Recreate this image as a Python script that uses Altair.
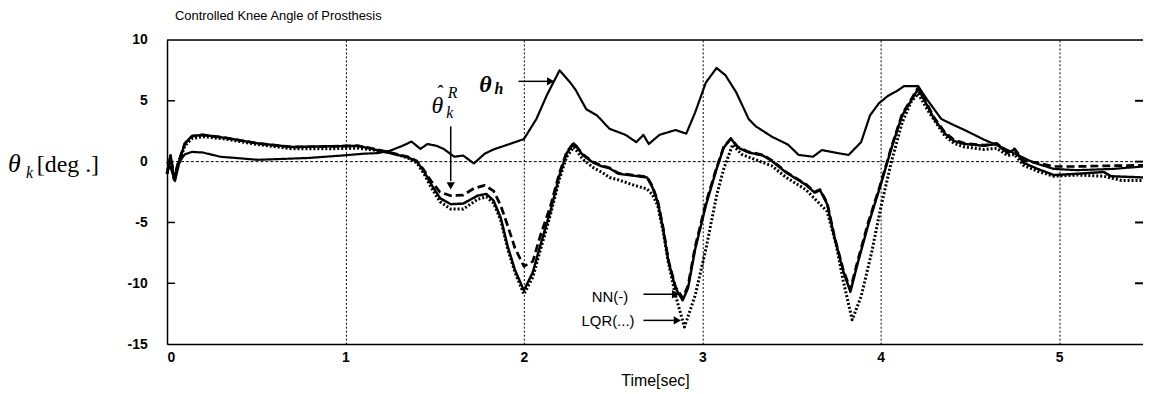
import altair as alt
import pandas as pd

# ---------------- data ----------------
t_nn = [0.0, 0.02, 0.04, 0.06, 0.1, 0.14, 0.2, 0.33, 0.51, 0.7, 0.88, 1.07, 1.16, 1.25, 1.35,
        1.4, 1.44, 1.48, 1.53, 1.59, 1.66, 1.74, 1.79, 1.83, 1.87, 1.91, 1.95, 2.0, 2.05, 2.09,
        2.15, 2.2, 2.24, 2.28, 2.33, 2.39, 2.44, 2.48, 2.53, 2.61, 2.69, 2.72, 2.75, 2.78, 2.81,
        2.85, 2.89, 2.92, 2.96, 3.02, 3.08, 3.12, 3.16, 3.2, 3.26, 3.34, 3.39, 3.47, 3.58, 3.63,
        3.66, 3.7, 3.74, 3.79, 3.83, 3.87, 3.93, 4.0, 4.06, 4.12, 4.17, 4.21, 4.25, 4.3, 4.36,
        4.41, 4.47, 4.58, 4.65, 4.71, 4.75, 4.8, 4.88, 4.97, 5.1, 5.25, 5.29, 5.47]
v_nn = [-1.0, 0.5, -1.5, -0.3, 1.5, 2.1, 2.2, 1.95, 1.5, 1.2, 1.25, 1.3, 1.0, 0.7, 0.35,
        0.0, -0.8, -1.85, -3.0, -3.5, -3.45, -2.8, -2.65, -3.2, -4.6, -7.0, -8.9, -10.6, -9.1, -7.0,
        -4.0, -1.1, 0.7, 1.5, 0.55, -0.1, -0.4, -0.55, -1.0, -1.15, -1.3, -2.1, -3.3, -5.5, -8.2,
        -10.4, -11.4, -10.4, -7.2, -3.6, -0.6, 1.15, 1.9, 1.15, 0.75, 0.5, 0.05, -0.9, -1.9, -2.55,
        -2.35, -3.5, -6.2, -9.0, -10.7, -8.4, -5.2, -1.9, 1.1, 3.8, 5.0, 6.0, 4.9, 3.5, 2.3,
        1.7, 1.45, 1.3, 1.45, 0.7, 1.0, -0.1, -0.6, -1.1, -1.0, -0.85, -1.2, -1.3]

t_lqr = [0.0, 0.02, 0.04, 0.06, 0.1, 0.14, 0.2, 0.33, 0.51, 0.7, 0.88, 1.07, 1.16, 1.25, 1.35,
         1.4, 1.44, 1.48, 1.53, 1.59, 1.66, 1.74, 1.79, 1.83, 1.87, 1.91, 1.95, 2.0, 2.05, 2.09,
         2.15, 2.2, 2.24, 2.28, 2.33, 2.39, 2.44, 2.48, 2.53, 2.61, 2.69, 2.72, 2.75, 2.78, 2.81,
         2.85, 2.9, 2.96, 3.02, 3.08, 3.12, 3.17, 3.22, 3.3, 3.39, 3.47, 3.58, 3.66, 3.7, 3.75,
         3.79, 3.84, 3.89, 3.95, 4.0, 4.06, 4.12, 4.17, 4.21, 4.26, 4.31, 4.36, 4.41, 4.47, 4.58,
         4.65, 4.71, 4.75, 4.8, 4.88, 4.97, 5.1, 5.25, 5.35, 5.47]
v_lqr = [-1.0, 0.3, -1.5, -0.4, 1.3, 1.9, 2.05, 1.85, 1.4, 1.05, 1.05, 1.1, 0.95, 0.75, 0.3,
         -0.1, -1.0, -2.1, -3.3, -3.9, -3.9, -3.1, -2.9, -3.4, -4.8, -7.2, -9.1, -10.9, -9.5, -7.4,
         -4.3, -1.4, 0.4, 1.2, 0.2, -0.5, -0.9, -1.3, -1.5, -1.9, -2.25, -2.7, -3.6, -5.7, -8.3,
         -11.0, -13.6, -11.0, -7.2, -2.8, -0.6, 1.4, 0.6, 0.15, -0.35, -1.3, -2.3, -3.5, -4.1, -6.8,
         -9.8, -13.0, -11.1, -7.4, -3.8, 0.0, 3.2, 4.9, 5.6, 4.3, 3.2, 2.1, 1.5, 1.2, 1.0,
         1.1, 0.5, 0.6, -0.3, -0.8, -1.2, -1.1, -1.2, -1.55, -1.55]

t_ref = [0.0, 0.02, 0.04, 0.06, 0.1, 0.14, 0.2, 0.33, 0.51, 0.7, 0.88, 1.07, 1.16, 1.25, 1.35,
         1.4, 1.44, 1.48, 1.53, 1.59, 1.66, 1.72, 1.78, 1.83, 1.87, 1.91, 1.95, 2.0, 2.05, 2.09,
         2.15, 2.2, 2.24, 2.28, 2.33, 2.39, 2.44, 2.48, 2.53, 2.61, 2.69, 2.72, 2.75, 2.78, 2.81,
         2.85, 2.89, 2.92, 2.96, 3.02, 3.08, 3.12, 3.16, 3.2, 3.26, 3.34, 3.39, 3.47, 3.58, 3.63,
         3.66, 3.7, 3.74, 3.79, 3.83, 3.87, 3.93, 4.0, 4.06, 4.12, 4.17, 4.21, 4.25, 4.3, 4.36,
         4.41, 4.47, 4.58, 4.65, 4.71, 4.75, 4.8, 4.88, 4.97, 5.1, 5.25, 5.47]
v_ref = [-1.0, 0.5, -1.3, -0.2, 1.5, 2.1, 2.2, 1.95, 1.5, 1.2, 1.25, 1.3, 1.05, 0.75, 0.4,
         0.05, -0.7, -1.6, -2.5, -2.8, -2.75, -2.2, -1.95, -2.4, -3.6, -5.3, -7.1, -8.6, -8.2, -6.2,
         -3.6, -0.9, 0.8, 1.55, 0.6, -0.05, -0.35, -0.5, -0.95, -1.1, -1.25, -2.0, -3.2, -5.4, -8.1,
         -10.3, -11.2, -10.2, -7.0, -3.4, -0.5, 1.2, 1.9, 1.2, 0.8, 0.55, 0.1, -0.85, -1.85, -2.5,
         -2.3, -3.4, -6.1, -8.9, -10.5, -8.2, -5.0, -1.8, 1.2, 3.9, 5.1, 6.1, 5.0, 3.6, 2.4,
         1.8, 1.5, 1.35, 1.5, 0.8, 1.05, 0.1, -0.1, -0.4, -0.4, -0.35, -0.3]

t_hip = [0.0, 0.02, 0.045, 0.07, 0.1, 0.14, 0.2, 0.3, 0.51, 0.79, 0.98, 1.1, 1.18, 1.25, 1.32,
         1.37, 1.42, 1.46, 1.51, 1.55, 1.61, 1.66, 1.72, 1.78, 1.83, 1.92, 2.0, 2.07, 2.13, 2.2,
         2.26, 2.29, 2.35, 2.41, 2.48, 2.57, 2.63, 2.67, 2.7, 2.76, 2.85, 2.91, 2.96, 3.02, 3.08,
         3.13, 3.19, 3.26, 3.3, 3.39, 3.48, 3.54, 3.62, 3.67, 3.76, 3.82, 3.89, 3.94, 3.99, 4.04,
         4.09, 4.13, 4.21, 4.26, 4.34, 4.41, 4.47, 4.58, 4.69, 4.76, 4.86, 4.97, 5.1, 5.3, 5.47]
v_hip = [0.0, -0.5, -1.6, 0.0, 0.6, 0.8, 0.75, 0.4, 0.15, 0.3, 0.5, 0.65, 0.7, 0.9, 1.3,
         1.65, 1.05, 1.45, 1.3, 1.05, 0.4, 0.5, -0.15, 0.65, 1.0, 1.45, 1.85, 3.5, 5.5, 7.5,
         6.5, 5.9, 4.3, 3.8, 2.7, 2.2, 1.6, 2.2, 1.45, 2.2, 2.6, 2.3, 4.05, 6.5, 7.7,
         7.1, 5.7, 3.5, 2.9, 2.05, 1.4, 0.55, 0.4, 0.95, 0.7, 0.55, 1.6, 3.8, 4.8, 5.4,
         5.8, 6.2, 6.2, 5.1, 3.5, 3.0, 2.6, 1.8, 1.1, 0.6, -0.1, -0.6, -0.7, -0.6, -0.4]

series_names = ["LQR", "ref", "NN", "hip"]
series_t = [t_lqr, t_ref, t_nn, t_hip]
series_v = [v_lqr, v_ref, v_nn, v_hip]

x_ticks = [0, 1, 2, 3, 4, 5]
y_ticks = [-15, -10, -5, 0, 5, 10]
left_inner_ticks = [5, -5, -10]
right_inner_ticks = [5, 0, -5, -10]

# annotation texts and positions (data units)
label_text = ["NN(-)", "LQR(...)"]
label_t = [2.585, 2.62]
label_v = [-11.1, -13.1]

arrow_t1 = [1.97, 1.59, 2.67, 2.67]
arrow_v1 = [6.6, 2.9, -10.9, -13.05]
arrow_t2 = [2.13, 1.59, 2.83, 2.84]
arrow_v2 = [6.6, -1.6, -10.9, -13.05]
head_t = [2.15, 1.59, 2.85, 2.86]
head_v = [6.6, -2.0, -10.9, -13.05]
head_shape = ["triangle-right", "triangle-down", "triangle-right", "triangle-right"]

# math-label pieces: text, t, v, size, weight
math_txt = ["θ", "h", "θ", "ˆ", "k", "R"]
math_t = [1.785, 1.86, 1.515, 1.525, 1.585, 1.6]
math_v = [5.75, 5.55, 4.0, 5.2, 3.55, 5.2]
math_size = [24, 16, 24, 20, 16, 16]
math_weight = ["bold", "bold", "normal", "normal", "normal", "normal"]

# y-axis title pieces (pixel offsets relative to the plot's top-left corner)
ytitle_txt = ["θ", "k", "[deg .]"]
ytitle_x = [-160, -142, -131]
ytitle_y = [133, 139, 133]
ytitle_size = [26, 16, 24]
ytitle_style = ["italic", "italic", "normal"]

# ---------------- build ----------------
rows = []
for name, ts, vs in zip(series_names, series_t, series_v):
    for i, (t, v) in enumerate(zip(ts, vs)):
        rows.append({"series": name, "t": t, "v": v, "i": i})
df = pd.DataFrame(rows)

W, H = 982, 306
XD = [0, 5.47]
YD = [-15, 10]

xs = alt.Scale(domain=XD, nice=False, zero=False)
ys = alt.Scale(domain=YD, nice=False, zero=False)

x_enc = alt.X("t:Q", scale=xs, axis=alt.Axis(
    values=x_ticks, format="d", title="Time[sec]", grid=True, gridDash=[2, 2], gridColor="black",
    gridOpacity=1, gridWidth=1, ticks=False, domain=True, domainColor="black", domainWidth=1.5,
    labelFont="Liberation Sans", labelFontWeight="bold", labelFontSize=14, labelPadding=7,
    labelColor="black", titleFont="Liberation Sans", titleFontWeight="normal",
    titleFontSize=16, titleColor="black", titlePadding=8))
y_enc = alt.Y("v:Q", scale=ys, axis=alt.Axis(
    values=y_ticks, labelExpr="datum.value < 0 ? '-' + abs(datum.value) : '' + datum.value",
    title=None, grid=False, ticks=False, domain=True,
    domainColor="black", domainWidth=1.5, labelFont="Liberation Sans",
    labelFontWeight="bold", labelFontSize=14, labelPadding=20, labelColor="black"))

lines = alt.Chart(df).mark_line(color="black", strokeCap="butt", strokeJoin="round").encode(
    x=x_enc, y=y_enc,
    detail="series:N",
    order="i:Q",
    strokeDash=alt.StrokeDash("series:N", scale=alt.Scale(
        domain=series_names, range=[[2, 2], [8, 4], [1, 0], [1, 0]]), legend=None),
    strokeWidth=alt.StrokeWidth("series:N", scale=alt.Scale(
        domain=series_names, range=[3.0, 2.2, 3.4, 2.5]), legend=None),
)

zero = alt.Chart(pd.DataFrame({"v": [0]})).mark_rule(
    color="black", strokeDash=[3, 2], strokeWidth=1).encode(y=alt.Y("v:Q", scale=ys))

top = alt.Chart(pd.DataFrame({"v": [10]})).mark_rule(color="black", strokeWidth=1.5).encode(
    y=alt.Y("v:Q", scale=ys))

lticks = alt.Chart(pd.DataFrame({"v": left_inner_ticks})).mark_rule(
    color="black", strokeWidth=1.5).encode(
    y=alt.Y("v:Q", scale=ys), x=alt.value(0), x2=alt.value(8))
rticks = alt.Chart(pd.DataFrame({"v": right_inner_ticks})).mark_rule(
    color="black", strokeWidth=2).encode(
    y=alt.Y("v:Q", scale=ys), x=alt.value(W - 8), x2=alt.value(W))

arrows = alt.Chart(pd.DataFrame({"t": arrow_t1, "v": arrow_v1, "t2": arrow_t2, "v2": arrow_v2})
                   ).mark_rule(color="black", strokeWidth=1.5).encode(
    x=alt.X("t:Q", scale=xs), y=alt.Y("v:Q", scale=ys), x2="t2:Q", y2="v2:Q")
heads = alt.Chart(pd.DataFrame({"t": head_t, "v": head_v, "shape": head_shape})).mark_point(
    filled=True, color="black", size=70, opacity=1).encode(
    x=alt.X("t:Q", scale=xs), y=alt.Y("v:Q", scale=ys),
    shape=alt.Shape("shape:N", scale=None, legend=None))

labels = alt.Chart(pd.DataFrame({"t": label_t, "v": label_v, "txt": label_text})).mark_text(
    align="right", baseline="middle", font="Liberation Sans", fontSize=15, color="black").encode(
    x=alt.X("t:Q", scale=xs), y=alt.Y("v:Q", scale=ys), text="txt:N")

math_df = pd.DataFrame({"t": math_t, "v": math_v, "txt": math_txt, "size": math_size,
                        "weight": math_weight})
math_layers = []
for w in ["bold", "normal"]:
    for s in sorted(set(math_size)):
        sub = math_df[(math_df["size"] == s) & (math_df["weight"] == w)]
        if len(sub) == 0:
            continue
        math_layers.append(alt.Chart(sub).mark_text(
            align="center", baseline="alphabetic", font="Liberation Serif", fontSize=s,
            fontStyle="italic", fontWeight=w, color="black").encode(
            x=alt.X("t:Q", scale=xs), y=alt.Y("v:Q", scale=ys), text="txt:N"))

ytitle_layers = []
for txt, px, py, s, st in zip(ytitle_txt, ytitle_x, ytitle_y, ytitle_size, ytitle_style):
    ytitle_layers.append(alt.Chart(pd.DataFrame({"txt": [txt]})).mark_text(
        align="left", baseline="alphabetic", font="Liberation Serif", fontSize=s,
        fontStyle=st, color="black").encode(
        x=alt.value(px), y=alt.value(py), text="txt:N"))

chart = alt.layer(
    zero, top, lticks, rticks, lines, arrows, heads, labels, *math_layers, *ytitle_layers
).properties(
    width=W, height=H,
    title=alt.TitleParams("Controlled Knee Angle of Prosthesis", anchor="start", frame="group",
                          dx=8, offset=10, fontSize=13, fontWeight="normal",
                          font="Liberation Sans", color="black"),
    autosize=alt.AutoSizeParams(type="none"),
    padding={"left": 160, "top": 31, "right": 0, "bottom": 45},
).configure_view(stroke=None).configure(background="white")

chart.save("out.html", embed_options={"renderer": "svg", "actions": False})
